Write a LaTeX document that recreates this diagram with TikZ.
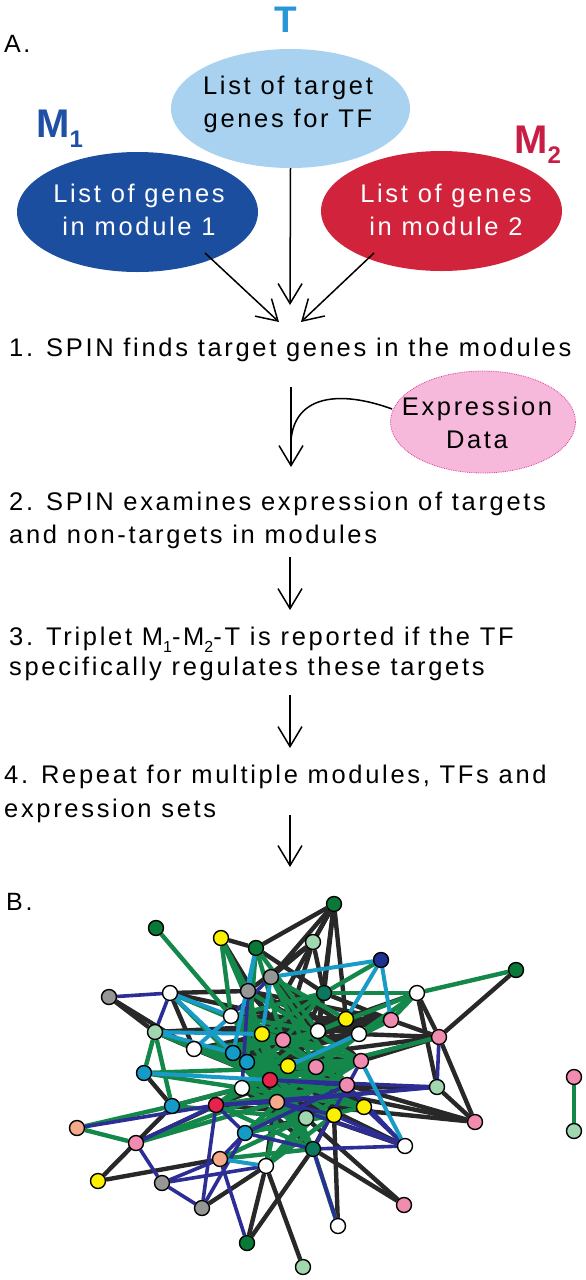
\documentclass[tikz,border=0pt]{standalone}
\usepackage{fontspec}
\setmainfont{Liberation Sans}[LetterSpace=10.5]
\usetikzlibrary{shapes.geometric,arrows.meta,backgrounds,calc}
\definecolor{Tlab}{RGB}{40,150,215}
\definecolor{Tfill}{RGB}{168,210,240}
\definecolor{Monelab}{RGB}{30,80,165}
\definecolor{Monefill}{RGB}{28,78,160}
\definecolor{Mtwolab}{RGB}{200,30,70}
\definecolor{Mtwofill}{RGB}{210,35,60}
\definecolor{Efill}{RGB}{246,185,220}
\definecolor{Edraw}{RGB}{225,60,150}
\definecolor{ek}{RGB}{40,40,40}
\definecolor{eg}{RGB}{20,135,75}
\definecolor{eb}{RGB}{45,45,150}
\definecolor{ec}{RGB}{25,155,200}
\definecolor{cdg}{RGB}{10,120,55}
\definecolor{cte}{RGB}{10,120,95}
\definecolor{cye}{RGB}{250,240,0}
\definecolor{cpi}{RGB}{240,140,175}
\definecolor{clg}{RGB}{160,215,175}
\definecolor{cgr}{RGB}{150,150,150}
\definecolor{ccy}{RGB}{20,155,200}
\definecolor{cre}{RGB}{230,35,75}
\definecolor{csa}{RGB}{245,170,140}
\definecolor{cnv}{RGB}{30,50,145}
\definecolor{cwh}{RGB}{255,255,255}
\newcommand{\subs}[1]{\raisebox{-0.28em}{\fontsize{16}{16}\selectfont #1}}
\begin{document}
\begin{tikzpicture}[x=1pt,y=-1pt,
  txt/.style={font=\fontsize{25.5}{33}\selectfont, inner sep=0pt, anchor=base west},
  ctxt/.style={font=\fontsize{25.5}{33}\selectfont, inner sep=0pt, anchor=base},
  lab/.style={font=\bfseries\fontsize{40}{40}\selectfont, inner sep=0pt, anchor=base west},
  ell/.style={ellipse, inner sep=0pt},
  arr/.style={line width=1.5pt, -{Straight Barb[length=20pt,width=24pt,line width=1.5pt]}},
  nd/.style={circle, draw=black, line width=1.4pt, minimum size=15pt, inner sep=0pt},
  ekk/.style={draw=ek, line width=4.4pt},
  egg/.style={draw=eg, line width=4.4pt},
  ebb/.style={draw=eb, line width=3.6pt},
  ecc/.style={draw=ec, line width=4pt}]
\useasboundingbox (0,0) rectangle (586,1280);

% ---- Part A ----
\node[txt, font=\fontsize{25}{25}\selectfont] (A) at (4,52) {A.};
\node[inner sep=0pt, anchor=base, font=\bfseries\fontsize{37}{37}\selectfont, text=Tlab] (Tl) at (286,32) {T};
\node[lab, text=Monelab] (M1l) at (36,137) {M\raisebox{-0.25em}{\fontsize{24}{24}\selectfont 1}};
\node[lab, text=Mtwolab] (M2l) at (514,153) {M\raisebox{-0.25em}{\fontsize{24}{24}\selectfont 2}};

\node[ell, fill=Tfill, minimum width=239pt, minimum height=119pt] (T) at (290.5,108.5) {};
\node[ctxt] (Tt1) at (288,94) {List of target};
\node[ctxt] (Tt2) at (288,127) {genes for TF};

\node[ell, fill=Monefill, minimum width=241pt, minimum height=120pt] (M1) at (137.5,212) {};
\node[ctxt, text=white] (M1t1) at (139,202) {List of genes};
\node[ctxt, text=white] (M1t2) at (139,235) {in module 1};

\node[ell, fill=Mtwofill, minimum width=241pt, minimum height=120pt] (M2) at (441.5,211) {};
\node[ctxt, text=white] (M2t1) at (446,202) {List of genes};
\node[ctxt, text=white] (M2t2) at (446,235) {in module 2};

\coordinate (m1s) at (205,253);
\coordinate (m1e) at (279,322);
\coordinate (m2s) at (374,253);
\coordinate (m2e) at (301,322);
\coordinate (tte) at (290,305);
\draw[arr] (m1s) -- (m1e);
\draw[arr] (m2s) -- (m2e);
\draw[arr] (T.south) -- (tte);

\node[txt] (s1) at (9,356) {1. SPIN finds target genes in the modules};

\node[ell, fill=Efill, draw=Edraw, densely dotted, line width=0.8pt, minimum width=185pt, minimum height=102pt] (E) at (483,422) {};
\node[ctxt] (Et1) at (477,415) {Expression};
\node[ctxt] (Et2) at (477,448) {Data};

\coordinate (a2s) at (291,387);
\coordinate (a2e) at (291,467);
\draw[arr] (a2s) -- (a2e);
\draw[line width=1.5pt] ($(E.west)+(2,-13)$) .. controls (340,390) and (295,395) .. (291,440);

\node[txt] (s2a) at (9,510) {2. SPIN examines expression of targets};
\node[txt] (s2b) at (9,543) {and non-targets in modules};

\coordinate (a3s) at (290,557);
\coordinate (a3e) at (290,610);
\draw[arr] (a3s) -- (a3e);

\node[txt] (s3a) at (9,645) {3. Triplet M\subs{1}-M\subs{2}-T is reported if the TF};
\node[txt] (s3b) at (9,675) {specifically regulates these targets};

\coordinate (a4s) at (290,695);
\coordinate (a4e) at (290,748);
\draw[arr] (a4s) -- (a4e);

\node[txt] (s4a) at (4,783) {4. Repeat for multiple modules, TFs and};
\node[txt] (s4b) at (4,817) {expression sets};

\coordinate (a5s) at (290,815);
\coordinate (a5e) at (290,867);
\draw[arr] (a5s) -- (a5e);

% ---- Part B ----
\node[txt, font=\fontsize{25}{25}\selectfont] (B) at (6,910) {B.};

\foreach \n/\x/\y/\c in {
 n1/334/904/cdg, n2/156/928/cdg, n3/221/938/cye, n4/313/942/clg, n5/256/948/cdg,
 n6/381/960/cnv, n7/516/970/cdg, n8/271/977/cgr, n9/248/991/cgr, n10/109/997/cgr,
 n11/170/993/cwh, n12/324/993/cte, n13/417/993/cwh, n14/231/1016/cwh, n15/346/1019/cye,
 n16/391/1020/cpi, n17/155/1032/clg, n18/262/1034/cye, n19/283/1040/cpi, n20/318/1031/cwh,
 n21/359/1034/cwh, n22/439/1037/cpi, n23/194/1049/cwh, n24/233/1053/ccy, n25/247/1062/ccy,
 n26/288/1066/cye, n27/316/1067/cpi, n28/361/1061/cpi, n29/144/1073/ccy, n30/270/1080/cre,
 n31/242/1088/cwh, n32/347/1085/cpi, n33/437/1087/clg, n34/172/1106/ccy, n35/216/1105/cre,
 n36/277/1102/csa, n37/364/1107/cye, n38/334/1115/cye, n39/306/1118/clg, n40/475/1122/cpi,
 n41/77/1128/csa, n42/245/1133/ccy, n43/136/1143/cpi, n44/405/1146/cwh, n45/313/1149/cte,
 n46/220/1159/csa, n47/266/1166/cwh, n48/98/1181/cye, n49/162/1183/cgr, n50/404/1205/cpi,
 n51/202/1208/cgr, n52/338/1226/cwh, n53/247/1243/cdg, n54/303/1267/clg,
 n55/574/1077/cpi, n56/574/1131/clg}
  \node[nd, fill=\c] (\n) at (\x,\y) {};

\begin{scope}[on background layer]
\foreach \a/\b in {n1/n5, n1/n4, n1/n8, n1/n12, n1/n15, n1/n20, n3/n5, n3/n19, n4/n8, n4/n12,
 n4/n9, n5/n12, n10/n17, n10/n23, n11/n9, n13/n22, n7/n22, n13/n33, n16/n22, n21/n22,
 n22/n28, n22/n40, n22/n31, n33/n40, n40/n32, n40/n30, n12/n20, n12/n18, n12/n16, n8/n21,
 n8/n20, n9/n20, n9/n16, n14/n21, n14/n18, n17/n20, n17/n23, n23/n30, n23/n25, n23/n28,
 n24/n21, n24/n36, n29/n34, n34/n31, n48/n34, n48/n46, n43/n30, n51/n47, n53/n47, n53/n45,
 n54/n47, n50/n45, n50/n39, n52/n38, n45/n32, n37/n30, n38/n31, n39/n25, n47/n19, n36/n37,
 n31/n32, n44/n30, n20/n28, n15/n19, n18/n27, n27/n35, n16/n19, n15/n21, n26/n32, n19/n37, n11/n23,
 n9/n21, n9/n27, n8/n28, n12/n19, n12/n26, n14/n27, n14/n16, n15/n23, n15/n31, n16/n23,
 n16/n18, n18/n32, n19/n28, n20/n23, n20/n30, n21/n31, n21/n25, n24/n28, n24/n32, n25/n27,
 n26/n37, n27/n31, n28/n36, n30/n38, n31/n45, n35/n38, n36/n45, n39/n30, n42/n39, n47/n36,
 n23/n21, n11/n21, n17/n16, n12/n25, n1/n18, n4/n19, n13/n19, n22/n25, n33/n31, n40/n36, n44/n36}
  \draw[ekk] (\a) -- (\b);
\foreach \a/\b in {n2/n14, n3/n14, n3/n9, n5/n25, n5/n19, n6/n12, n7/n13, n12/n13, n13/n16,
 n13/n21, n13/n20, n14/n28, n14/n26, n9/n36, n8/n27, n17/n29, n17/n34, n17/n25, n11/n36,
 n23/n32, n24/n37, n25/n38, n29/n31, n34/n39, n41/n34, n41/n43, n43/n36, n42/n27, n45/n18,
 n45/n52, n45/n24, n47/n26, n46/n39, n19/n32, n20/n35, n21/n30, n28/n31, n42/n38, n39/n14,
 n55/n56, n30/n28, n18/n28, n25/n32, n31/n37, n36/n21, n35/n26, n14/n20, n8/n15,
 n9/n28, n8/n32, n12/n24, n12/n31, n14/n32, n15/n25, n16/n30, n18/n30, n19/n23, n20/n24,
 n21/n35, n23/n37, n24/n38, n25/n28, n26/n31, n27/n42, n28/n42, n30/n39, n31/n39, n32/n35,
 n36/n39, n37/n42, n38/n47, n39/n47, n45/n30, n45/n36, n45/n35, n17/n30, n29/n27, n34/n30,
 n23/n27, n11/n19, n14/n12, n5/n20, n3/n18, n13/n27, n22/n30, n47/n32, n46/n45, n43/n28}
  \draw[egg] (\a) -- (\b);
\foreach \a/\b in {n10/n11, n11/n17, n22/n33, n33/n30, n44/n45, n44/n37, n44/n32, n44/n38,
 n43/n35, n43/n49, n35/n42, n35/n51, n35/n36, n49/n46, n49/n47, n49/n51, n51/n42, n53/n46,
 n52/n45, n45/n28, n42/n32, n36/n33, n8/n14, n9/n31, n41/n35,
 n30/n32, n36/n44, n42/n45, n35/n33, n46/n42, n38/n36}
  \draw[ebb] (\a) -- (\b);
\foreach \a/\b in {n5/n24, n5/n9, n6/n8, n6/n15, n6/n16, n11/n14, n11/n24, n17/n18, n17/n24,
 n29/n30, n44/n28, n46/n47, n8/n18, n21/n26, n14/n23}
  \draw[ecc] (\a) -- (\b);
\end{scope}
\end{tikzpicture}
\end{document}
